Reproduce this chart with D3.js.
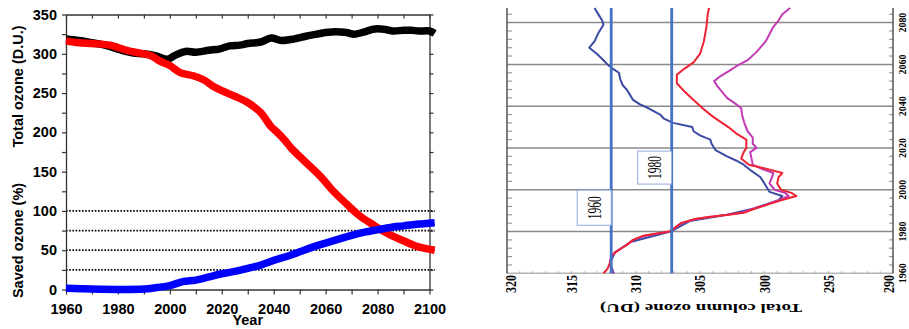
<!DOCTYPE html>
<html>
<head>
<meta charset="utf-8">
<script src="https://cdn.jsdelivr.net/npm/d3@7"></script>
<style>
  body { margin: 0; background: #fff; }
  svg { display: block; }
</style>
</head>
<body>
<svg id="chart" width="909" height="329"></svg>
<script>
// ---- left panel data (year -> value) ----
const totalYears = [1960, 1965, 1970, 1975, 1980, 1983, 1986, 1990, 1995, 1999, 2002, 2006, 2010, 2015, 2019, 2023, 2027, 2030, 2035, 2039, 2043, 2048, 2052, 2055, 2060, 2064, 2068, 2071, 2075, 2078, 2080, 2083, 2086, 2090, 2093, 2096, 2100, 2102];
const totalOzone = [319, 317, 314, 311, 306, 303, 301, 300, 297, 293, 298, 303, 302, 304.5, 306, 310, 311, 313, 315, 320, 317, 319, 322, 324, 327, 328, 327, 325, 328, 331, 332, 331, 329, 330, 330, 329, 329, 326];

const worldYears = [1960, 1965, 1970, 1977, 1980, 1985, 1990, 1993, 1996, 2000, 2004, 2009, 2013, 2017, 2020, 2025, 2030, 2035, 2039, 2041, 2044, 2047, 2052, 2058, 2063, 2068, 2073, 2078, 2084, 2090, 2095, 2102];
const worldOzone = [316.5, 314, 313, 311, 308, 303, 300, 297, 291, 285, 276, 272, 267, 258, 253, 246, 238, 225, 207, 201, 191, 179, 163, 144, 125, 109, 94, 83, 71, 62, 55, 50];

const savedYears = [1960, 1970, 1980, 1990, 1995, 2000, 2005, 2010, 2015, 2020, 2025, 2030, 2035, 2040, 2045, 2050, 2055, 2060, 2065, 2070, 2075, 2080, 2085, 2090, 2095, 2102];
const savedPct = [1.5, 0.5, 0, 0.5, 2.5, 5, 10, 12, 16, 20, 23, 27, 31, 37, 42, 48, 54, 59, 64, 69, 73, 76, 79, 81, 83, 85];

const leftTicksY = [0, 50, 100, 150, 200, 250, 300, 350];
const leftTicksX = [1960, 1980, 2000, 2020, 2040, 2060, 2080, 2100];
const savedLevels = [25, 50, 75, 100];

// ---- right panel data (year -> total column ozone, DU) ----
const redYears = [1960, 1962, 1965, 1968, 1970, 1972, 1974, 1976, 1978, 1980, 1982, 1984, 1986, 1987, 1988, 1989, 1991, 1993, 1995, 1997, 1998.5, 2000, 2003, 2006, 2008, 2010, 2012, 2015, 2018, 2020, 2024, 2027, 2030, 2035, 2039, 2043, 2047, 2051, 2055, 2058, 2061, 2065, 2071, 2078, 2084, 2087];
const redOzone = [312.5, 312.2, 312.0, 311.9, 311.6, 311.1, 310.6, 310.2, 309.4, 307.4, 306.9, 306.5, 305.4, 304.3, 302.8, 301.6, 300.7, 299.7, 298.7, 297.5, 297.9, 298.7, 299.0, 298.9, 298.6, 299.8, 301.2, 301.8, 301.6, 301.4, 301.4, 302.2, 302.8, 304.0, 304.8, 305.5, 306.2, 306.8, 306.8, 306.2, 305.5, 305.0, 304.7, 304.5, 304.4, 304.3];

const magentaYears = [1960, 1962, 1965, 1968, 1970, 1972, 1974, 1976, 1978, 1980, 1982, 1984, 1986, 1987, 1988, 1989, 1991, 1993, 1995, 1997, 1998.5, 2000, 2003, 2006, 2008, 2010, 2012, 2015, 2018, 2020, 2022, 2025, 2028, 2031, 2035, 2039, 2041, 2044, 2047, 2050, 2052, 2054, 2057, 2059, 2062, 2066, 2071, 2078, 2081, 2084, 2087];
const magentaOzone = [311.7, 311.9, 312.0, 311.9, 311.6, 311.1, 310.6, 310.2, 309.3, 307.3, 306.9, 306.4, 305.3, 304.3, 302.9, 301.8, 300.8, 299.8, 298.9, 298.1, 298.4, 299.2, 299.6, 299.4, 299.3, 300.2, 300.9, 301.0, 301.1, 300.6, 300.9, 300.9, 301.3, 301.5, 301.7, 301.8, 302.2, 302.9, 303.3, 303.7, 303.9, 303.5, 302.7, 302.2, 301.3, 300.6, 299.9, 299.3, 298.9, 298.6, 298.0];

const blueYears = [1960, 1965, 1970, 1975, 1980, 1985, 1988, 1991, 1995, 1997, 1999, 2002, 2006, 2009, 2012, 2014, 2016, 2019, 2022, 2024, 2026, 2028, 2030, 2032, 2034, 2036, 2039, 2041, 2043, 2046, 2048, 2050, 2053, 2056, 2058, 2060, 2062, 2065, 2068, 2071, 2075, 2079, 2081, 2083, 2087];
const blueOzone = [311.7, 312.0, 311.6, 310.4, 307.3, 305.8, 302.9, 300.8, 298.9, 298.6, 299.6, 299.9, 300.3, 301.0, 301.6, 302.2, 302.9, 303.8, 304.1, 304.2, 305.0, 305.5, 305.6, 307.1, 307.8, 308.1, 309.0, 309.7, 310.2, 310.5, 310.7, 311.0, 311.2, 311.3, 311.8, 312.2, 312.5, 313.0, 313.6, 313.2, 312.9, 312.5, 312.6, 312.8, 313.2];

const refLevels = [311.9, 307.2];
const refLabels = ["1960", "1980"];
const refBoxYears = [[1983, 1999.8], [2002.7, 2018.5]];
const rightTicksOzone = [320, 315, 310, 305, 300, 295, 290];
const rightTicksYear = [1960, 1980, 2000, 2020, 2040, 2060, 2080];

const svg = d3.select("#chart");

// ================= left panel =================
const xL = d3.scaleLinear().domain([1960, 2100]).range([66, 429.5]);
const yL = d3.scaleLinear().domain([0, 350]).range([289.5, 14.5]);
const sans = "'Liberation Sans', Arial, sans-serif";

const left = svg.append("g");

// dotted reference lines for saved ozone
left.selectAll("line.dot")
  .data(savedLevels)
  .join("line")
  .attr("class", "dot")
  .attr("x1", xL(1960)).attr("x2", xL(2102))
  .attr("y1", d => yL(d)).attr("y2", d => yL(d))
  .attr("stroke", "#000")
  .attr("stroke-width", 1.7)
  .attr("stroke-dasharray", "1.6,1.6");

// frame + axes
const styleAxis = g => {
  g.select(".domain").attr("stroke", "#333").attr("stroke-width", 1.3);
  g.selectAll(".tick line").attr("stroke", "#333").attr("stroke-width", 1.2);
  g.selectAll("text")
    .attr("fill", "#000")
    .style("font-family", sans)
    .style("font-weight", "bold")
    .style("font-size", "14.5px");
};

left.append("g")
  .attr("transform", `translate(${xL(1960)},0)`)
  .call(d3.axisLeft(yL).tickValues(d3.range(0, 351, 25)).tickSizeInner(4).tickSizeOuter(0).tickPadding(5)
    .tickFormat(d => leftTicksY.includes(d) ? d : ""))
  .call(styleAxis);

left.append("g")
  .attr("transform", `translate(${xL(2100)},0)`)
  .call(d3.axisLeft(yL).tickValues(d3.range(0, 351, 25)).tickSizeInner(-4).tickSizeOuter(0).tickFormat(""))
  .call(styleAxis);

left.append("g")
  .attr("transform", `translate(0,${yL(350)})`)
  .call(d3.axisTop(xL).tickValues(d3.range(1960, 2101, 10)).tickSizeInner(-4).tickSizeOuter(0).tickFormat(""))
  .call(styleAxis);

left.append("g")
  .attr("transform", `translate(0,${yL(0)})`)
  .call(d3.axisBottom(xL).tickValues(d3.range(1960, 2101, 10)).tickSizeInner(5).tickSizeOuter(0).tickPadding(9)
    .tickFormat(d => leftTicksX.includes(d) ? d : ""))
  .call(styleAxis);

// thick series lines
const lineL = d3.line()
  .x(d => xL(d[0]))
  .y(d => yL(d[1]))
  .curve(d3.curveCatmullRom.alpha(0.5));

const leftSeries = [
  { years: totalYears, values: totalOzone, color: "#000000" },
  { years: worldYears, values: worldOzone, color: "#ff0000" },
  { years: savedYears, values: savedPct, color: "#0000ff" }
];

left.selectAll("path.series")
  .data(leftSeries)
  .join("path")
  .attr("class", "series")
  .attr("d", s => lineL(s.years.map((y, i) => [y, s.values[i]])))
  .attr("fill", "none")
  .attr("stroke", s => s.color)
  .attr("stroke-width", 7.5)
  .attr("stroke-linejoin", "round");

// axis titles
left.append("text")
  .attr("transform", `translate(23,86.5) rotate(-90)`)
  .attr("text-anchor", "middle")
  .style("font-family", sans).style("font-weight", "bold").style("font-size", "14.5px")
  .text("Total ozone (D.U.)");

left.append("text")
  .attr("transform", `translate(23,240.5) rotate(-90)`)
  .attr("text-anchor", "middle")
  .style("font-family", sans).style("font-weight", "bold").style("font-size", "14.5px")
  .text("Saved ozone (%)");

left.append("text")
  .attr("x", (xL(1960) + xL(2100)) / 2)
  .attr("y", 325)
  .attr("text-anchor", "middle")
  .style("font-family", sans).style("font-weight", "bold").style("font-size", "14.5px")
  .text("Year");

// ================= right panel (rotated chart) =================
const xR = d3.scaleLinear().domain([320, 290]).range([507, 893]);
const yR = d3.scaleLinear().domain([1960, 2087]).range([273.3, 8]);
const serif = "'Liberation Serif', 'Times New Roman', serif";

const right = svg.append("g");

// year grid lines
right.selectAll("line.grid")
  .data(rightTicksYear.filter(d => d > 1960))
  .join("line")
  .attr("class", "grid")
  .attr("x1", xR(320)).attr("x2", xR(290))
  .attr("y1", d => yR(d)).attr("y2", d => yR(d))
  .attr("stroke", "#8a8a8a")
  .attr("stroke-width", 1.5);

// minor year ticks on both sides
const minorYears = d3.range(1964, 2087, 4).filter(d => (d - 1960) % 20 !== 0);
right.selectAll("line.mtl")
  .data(minorYears)
  .join("line")
  .attr("class", "mtl")
  .attr("x1", xR(320)).attr("x2", xR(320) + 5)
  .attr("y1", d => yR(d)).attr("y2", d => yR(d))
  .attr("stroke", "#9a9a9a").attr("stroke-width", 1.2);
right.selectAll("line.mtr")
  .data(minorYears)
  .join("line")
  .attr("class", "mtr")
  .attr("x1", xR(290) - 4).attr("x2", xR(290))
  .attr("y1", d => yR(d)).attr("y2", d => yR(d))
  .attr("stroke", "#9a9a9a").attr("stroke-width", 1.2);

// minor ozone ticks along the bottom
right.selectAll("line.mto")
  .data(d3.range(290, 321, 1))
  .join("line")
  .attr("class", "mto")
  .attr("x1", d => xR(d)).attr("x2", d => xR(d))
  .attr("y1", yR(1960) - 2).attr("y2", yR(1960))
  .attr("stroke", "#9a9a9a").attr("stroke-width", 1);

// frame
right.append("line")
  .attr("x1", xR(320)).attr("x2", xR(290))
  .attr("y1", yR(1960)).attr("y2", yR(1960))
  .attr("stroke", "#b5b5b5").attr("stroke-width", 1.6);
right.selectAll("line.side")
  .data([320, 290])
  .join("line")
  .attr("class", "side")
  .attr("x1", d => xR(d)).attr("x2", d => xR(d))
  .attr("y1", yR(2087)).attr("y2", yR(1960))
  .attr("stroke", "#555").attr("stroke-width", 1.5);

// model lines
const lineR = d3.line()
  .x(d => xR(d[1]))
  .y(d => yR(d[0]));

const rightSeries = [
  { years: blueYears, values: blueOzone, color: "#3b4aa3" },
  { years: magentaYears, values: magentaOzone, color: "#c23bb5" },
  { years: redYears, values: redOzone, color: "#ee2232" }
];

right.selectAll("path.model")
  .data(rightSeries)
  .join("path")
  .attr("class", "model")
  .attr("d", s => lineR(s.years.map((y, i) => [y, s.values[i]])))
  .attr("fill", "none")
  .attr("stroke", s => s.color)
  .attr("stroke-width", 2)
  .attr("stroke-linejoin", "round");

// reference levels and boxed labels
right.selectAll("line.ref")
  .data(refLevels)
  .join("line")
  .attr("class", "ref")
  .attr("x1", d => xR(d)).attr("x2", d => xR(d))
  .attr("y1", yR(2087)).attr("y2", yR(1960))
  .attr("stroke", "#4472c4")
  .attr("stroke-width", 2.8);

const boxes = right.selectAll("g.refbox")
  .data(refLevels.map((v, i) => ({ v, label: refLabels[i], span: refBoxYears[i] })))
  .join("g")
  .attr("class", "refbox");

boxes.append("rect")
  .attr("x", d => xR(d.v) - 34)
  .attr("y", d => yR(d.span[1]))
  .attr("width", 34)
  .attr("height", d => yR(d.span[0]) - yR(d.span[1]))
  .attr("fill", "#fff")
  .attr("stroke", "#8fabdc")
  .attr("stroke-width", 1);

boxes.append("text")
  .attr("transform", d => `translate(${xR(d.v) - 17},${(yR(d.span[0]) + yR(d.span[1])) / 2}) scale(1.6,1) rotate(-90)`)
  .attr("text-anchor", "middle")
  .attr("dy", "0.35em")
  .style("font-family", serif)
  .style("font-size", "11.5px")
  .text(d => d.label);

// ozone tick labels (bottom)
right.selectAll("text.oz")
  .data(rightTicksOzone)
  .join("text")
  .attr("class", "oz")
  .attr("transform", d => `translate(${Math.min(Math.max(xR(d), 511), 889)},275) scale(1.3,1) rotate(-90)`)
  .attr("text-anchor", "end")
  .attr("dy", "0.35em")
  .style("font-family", serif)
  .style("font-weight", "bold")
  .style("font-size", "12px")
  .text(d => d);

// year tick labels (right edge)
right.selectAll("text.yr")
  .data(rightTicksYear)
  .join("text")
  .attr("class", "yr")
  .attr("transform", d => `translate(902.5,${yR(d)}) scale(1.1,1) rotate(-90)`)
  .attr("text-anchor", "middle")
  .attr("dy", "0.35em")
  .style("font-family", serif)
  .style("font-weight", "bold")
  .style("font-size", "10px")
  .text(d => d);

// axis title, upside down as in the source
right.append("text")
  .attr("transform", "translate(701,308) rotate(180)")
  .attr("text-anchor", "middle")
  .attr("dy", "0.35em")
  .attr("textLength", 202)
  .attr("lengthAdjust", "spacingAndGlyphs")
  .style("font-family", serif)
  .style("font-weight", "bold")
  .style("font-size", "12px")
  .text("Total column ozone (DU)");
</script>
</body>
</html>
